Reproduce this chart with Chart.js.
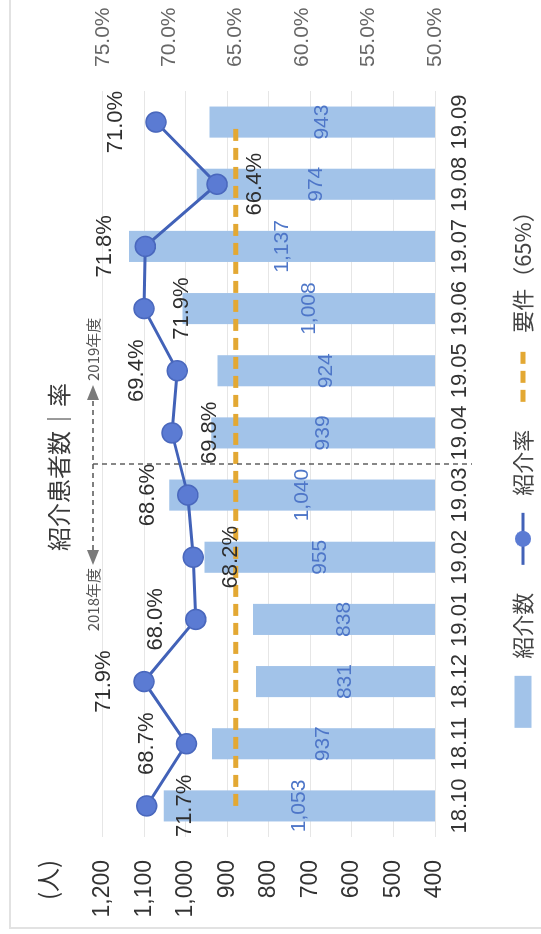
<!DOCTYPE html>
<html lang="ja">
<head>
<meta charset="utf-8">
<title>紹介患者数・率</title>
<script src="https://cdn.jsdelivr.net/npm/chart.js@4.4.1/dist/chart.umd.min.js"></script>
<style>
  html, body { margin: 0; padding: 0; background: #fff; overflow: hidden; }
  /* 元のグラフは横長。写真では左に90度回転しているので、そのまま回す */
  #frame {
    position: absolute; left: 0; top: 0;
    width: 934px; height: 541px;
    transform-origin: 0 0;
    transform: translate(0, 934px) rotate(-90deg);
    background: #fff;
  }
  #frame canvas { display: block; }
</style>
</head>
<body>
<div id="frame"><canvas id="chartReferral" width="934" height="541"></canvas></div>
<script>
/* global Chart */
'use strict';

// ── データ ──────────────────────────────────────────────
var months           = ['18.10', '18.11', '18.12', '19.01', '19.02', '19.03', '19.04', '19.05', '19.06', '19.07', '19.08', '19.09'];
var referralCounts   = [1053, 937, 831, 838, 955, 1040, 939, 924, 1008, 1137, 974, 943];
var referralRates    = [71.7, 68.7, 71.9, 68.0, 68.2, 68.6, 69.8, 69.4, 71.9, 71.8, 66.4, 71.0];
var requirementRates = [65, 65, 65, 65, 65, 65, 65, 65, 65, 65, 65, 65];
var countTicks       = [400, 500, 600, 700, 800, 900, 1000, 1100, 1200];
var rateTicks        = [50, 55, 60, 65, 70, 75];
var rateLabelSide    = ['below', 'above', 'above', 'above', 'below', 'above', 'below', 'above', 'below', 'above', 'below', 'above'];

var FONT_NUM = '"Liberation Sans", Arial, sans-serif';
var FONT_JP  = '"Noto Sans CJK JP", "Noto Sans", sans-serif';

var COLOR_BAR  = '#a2c3e9';
var COLOR_LINE = '#4262b8';
var COLOR_DOT  = '#5b7bd3';
var COLOR_REQ  = '#e3a833';

// ── 値ラベル ────────────────────────────────────────────
var valueLabels = {
  id: 'valueLabels',
  afterDatasetsDraw: function (chart) {
    var ctx = chart.ctx;
    var bars = chart.getDatasetMeta(0).data;
    var pts  = chart.getDatasetMeta(2).data;
    // 棒の根元は0ではなく軸の下端(400)で切れているので、そこを基準にする
    var floorY = chart.scales.y.getPixelForValue(countTicks[0]);
    ctx.save();
    ctx.textAlign = 'center';
    ctx.textBaseline = 'middle';
    ctx.font = '21px ' + FONT_NUM;
    ctx.fillStyle = '#4e76c8';
    for (var i = 0; i < bars.length; i++) {
      ctx.fillText(referralCounts[i].toLocaleString('en-US'), bars[i].x, (bars[i].y + floorY) / 2);
    }
    ctx.font = '22px ' + FONT_NUM;
    ctx.fillStyle = '#2e2e2e';
    for (var j = 0; j < pts.length; j++) {
      var dy = rateLabelSide[j] === 'above' ? -40 : 38;
      ctx.fillText(referralRates[j].toFixed(1) + '%', pts[j].x, pts[j].y + dy);
    }
    ctx.restore();
  }
};

// ── 年度区切り・単位・凡例 ───────────────────────────────
function arrowHead(ctx, tipX, y, dir) {
  ctx.beginPath();
  ctx.moveTo(tipX, y);
  ctx.lineTo(tipX - dir * 15, y - 6);
  ctx.lineTo(tipX - dir * 15, y + 6);
  ctx.closePath();
  ctx.fill();
}

var extras = {
  id: 'extras',
  beforeDraw: function (chart) {
    var ctx = chart.ctx;
    ctx.save();
    ctx.strokeStyle = '#e2e2e2';
    ctx.lineWidth = 2;
    ctx.beginPath();
    ctx.moveTo(6, chart.height);
    ctx.lineTo(6, 10);
    ctx.lineTo(chart.width, 10);
    ctx.stroke();
    ctx.restore();
  },
  afterDraw: function (chart) {
    var ctx = chart.ctx;
    var xs = chart.scales.x;
    var splitX = (xs.getPixelForValue(5) + xs.getPixelForValue(6)) / 2;
    var topY = 93;

    ctx.save();
    // 年度の境目
    ctx.strokeStyle = '#555';
    ctx.lineWidth = 1.4;
    ctx.setLineDash([5, 4]);
    ctx.beginPath();
    ctx.moveTo(splitX, topY);
    ctx.lineTo(splitX, 472);
    ctx.moveTo(splitX - 86, topY);
    ctx.lineTo(splitX + 64, topY);
    ctx.stroke();
    ctx.setLineDash([]);
    ctx.fillStyle = '#7a7a7a';
    arrowHead(ctx, splitX - 101, topY, -1);
    arrowHead(ctx, splitX + 79, topY, 1);

    ctx.font = '15px ' + FONT_JP;
    ctx.fillStyle = '#555';
    ctx.textBaseline = 'middle';
    ctx.textAlign = 'right';
    ctx.fillText('2018年度', splitX - 104, topY);
    ctx.textAlign = 'left';
    ctx.fillText('2019年度', splitX + 83, topY);

    // 単位
    ctx.font = '24px ' + FONT_JP;
    ctx.fillStyle = '#333';
    ctx.textAlign = 'center';
    ctx.fillText('(人)', 54, 48);

    // 凡例
    var ly = 523;
    var items = [
      { text: '紹介数', kind: 'bar' },
      { text: '紹介率', kind: 'line' },
      { text: '要件（65%）', kind: 'req' }
    ];
    ctx.font = '22px ' + FONT_JP;
    var symW = 52, gapIn = 17, gapOut = 28, total = 0;
    items.forEach(function (it) { it.w = ctx.measureText(it.text).width; total += symW + gapIn + it.w; });
    total += gapOut * (items.length - 1);
    var area = chart.chartArea;
    var lx = (area.left + area.right) / 2 - total / 2;
    items.forEach(function (it) {
      if (it.kind === 'bar') {
        ctx.fillStyle = COLOR_BAR;
        ctx.fillRect(lx, ly - 8.5, symW, 17);
      } else if (it.kind === 'line') {
        ctx.strokeStyle = COLOR_LINE;
        ctx.lineWidth = 3;
        ctx.beginPath();
        ctx.moveTo(lx, ly);
        ctx.lineTo(lx + symW, ly);
        ctx.stroke();
        ctx.fillStyle = COLOR_DOT;
        ctx.beginPath();
        ctx.arc(lx + symW / 2, ly, 8, 0, Math.PI * 2);
        ctx.fill();
      } else {
        ctx.strokeStyle = COLOR_REQ;
        ctx.lineWidth = 5;
        ctx.setLineDash([12, 7]);
        ctx.beginPath();
        ctx.moveTo(lx, ly);
        ctx.lineTo(lx + symW, ly);
        ctx.stroke();
        ctx.setLineDash([]);
      }
      ctx.fillStyle = '#444';
      ctx.textAlign = 'left';
      ctx.textBaseline = 'middle';
      ctx.fillText(it.text, lx + symW + gapIn, ly);
      lx += symW + gapIn + it.w + gapOut;
    });
    ctx.restore();
  }
};

// ── グラフ ──────────────────────────────────────────────
new Chart(document.getElementById('chartReferral').getContext('2d'), {
  data: {
    labels: months,
    datasets: [
      {
        type: 'bar',
        label: '紹介数',
        data: referralCounts,
        yAxisID: 'y',
        backgroundColor: COLOR_BAR,
        categoryPercentage: 1.0,
        barPercentage: 0.5,
        order: 3
      },
      {
        type: 'line',
        label: '要件（65%）',
        data: requirementRates,
        yAxisID: 'y1',
        borderColor: COLOR_REQ,
        borderWidth: 5,
        borderDash: [12, 7],
        pointRadius: 0,
        fill: false,
        order: 2
      },
      {
        type: 'line',
        label: '紹介率',
        data: referralRates,
        yAxisID: 'y1',
        borderColor: COLOR_LINE,
        borderWidth: 3,
        pointRadius: 10,
        pointBackgroundColor: COLOR_DOT,
        pointBorderColor: '#4a68bd',
        pointBorderWidth: 1.5,
        tension: 0,
        fill: false,
        order: 1
      }
    ]
  },
  options: {
    responsive: false,
    animation: false,
    layout: { padding: 0 },
    plugins: {
      legend: { display: false },
      tooltip: { enabled: false },
      title: {
        display: true,
        text: '紹介患者数｜率',
        color: '#3a3a3a',
        font: { family: FONT_JP, size: 24, weight: 'normal' },
        padding: { top: 44, bottom: 30 }
      }
    },
    scales: {
      x: {
        grid: { display: false, drawTicks: false },
        border: { display: false },
        ticks: {
          color: '#333',
          font: { family: FONT_NUM, size: 22 },
          padding: 12,
          maxRotation: 0,
          autoSkip: false
        },
        afterFit: function (s) { s.height = 106; }
      },
      y: {
        position: 'left',
        min: countTicks[0],
        max: countTicks[countTicks.length - 1],
        afterBuildTicks: function (s) { s.ticks = countTicks.map(function (v) { return { value: v }; }); },
        grid: { color: '#e6e6e6', drawTicks: false },
        border: { display: false },
        ticks: {
          color: '#333',
          font: { family: FONT_NUM, size: 23 },
          padding: 23,
          callback: function (v) { return Number(v).toLocaleString('en-US'); }
        },
        afterFit: function (s) { s.width = 97; }
      },
      y1: {
        position: 'right',
        min: rateTicks[0],
        max: rateTicks[rateTicks.length - 1],
        afterBuildTicks: function (s) { s.ticks = rateTicks.map(function (v) { return { value: v }; }); },
        grid: { display: false, drawTicks: false },
        border: { display: false },
        ticks: {
          color: '#666',
          font: { family: FONT_NUM, size: 21 },
          padding: 24,
          callback: function (v) { return Number(v).toFixed(1) + '%'; }
        },
        afterFit: function (s) { s.width = 91; }
      }
    }
  },
  plugins: [valueLabels, extras]
});
</script>
</body>
</html>
